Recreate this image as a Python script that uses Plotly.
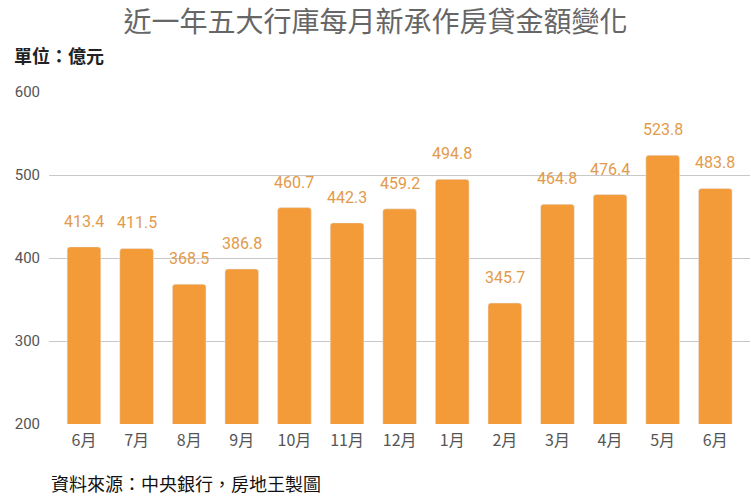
import plotly.graph_objects as go

# Monthly new mortgage lending of the five major banks (億元)
months = ["6月", "7月", "8月", "9月", "10月", "11月", "12月", "1月", "2月", "3月", "4月", "5月", "6月"]
amounts = [413.4, 411.5, 368.5, 386.8, 460.7, 442.3, 459.2, 494.8, 345.7, 464.8, 476.4, 523.8, 483.8]
y_ticks = [200, 300, 400, 500, 600]

bar_color = "#F29B38"
label_color = "#E39A4A"

x_idx = list(range(len(months)))

fig = go.Figure()

fig.add_trace(go.Bar(
    x=x_idx,
    y=amounts,
    marker=dict(color=bar_color, cornerradius=3),
    width=0.64,
    hoverinfo="skip",
    showlegend=False,
))

# value labels above bars
for i, v in zip(x_idx, amounts):
    fig.add_annotation(
        x=i, y=v, text=f"{v:.1f}",
        showarrow=False, yanchor="bottom", yshift=14,
        font=dict(size=16, color=label_color, family="Roboto"),
    )

fig.update_layout(
    width=751, height=500,
    paper_bgcolor="white",
    plot_bgcolor="white",
    margin=dict(l=49, r=1, t=92, b=76),
    title=dict(
        text="近一年五大行庫每月新承作房貸金額變化",
        x=0.5, xanchor="center", y=0.956, yanchor="middle",
        font=dict(size=28, color="#666666", family="Noto Sans CJK TC"),
    ),
    xaxis=dict(
        range=[-0.665, 12.66],
        tickmode="array",
        tickvals=x_idx,
        ticktext=months,
        showgrid=False,
        zeroline=False,
        showline=False,
        ticks="",
        ticklabelstandoff=5,
        tickfont=dict(size=16, color="#555555", family="Noto Sans CJK TC"),
        fixedrange=True,
    ),
    yaxis=dict(
        range=[200, 600],
        tickmode="array",
        tickvals=y_ticks,
        showgrid=True,
        gridcolor="#C8C8C8",
        gridwidth=1,
        zeroline=False,
        showline=False,
        ticks="",
        ticklabelstandoff=8,
        tickfont=dict(size=15, color="#555555", family="Roboto"),
        fixedrange=True,
    ),
    bargap=0.36,
)

fig.add_annotation(
    xref="paper", yref="paper", x=-0.053, y=1.11,
    xanchor="left", yanchor="middle",
    text="<b>單位：億元</b>", showarrow=False,
    font=dict(size=18, color="#222222", family="Noto Sans CJK TC"),
)

fig.add_annotation(
    xref="paper", yref="paper", x=0.0, y=-0.178,
    xanchor="left", yanchor="middle",
    text="資料來源：中央銀行，房地王製圖", showarrow=False,
    font=dict(size=18, color="#111111", family="Noto Sans CJK TC"),
)

fig.write_html("out.html", config={"displayModeBar": False},
               post_script="document.body.style.margin='0';")
